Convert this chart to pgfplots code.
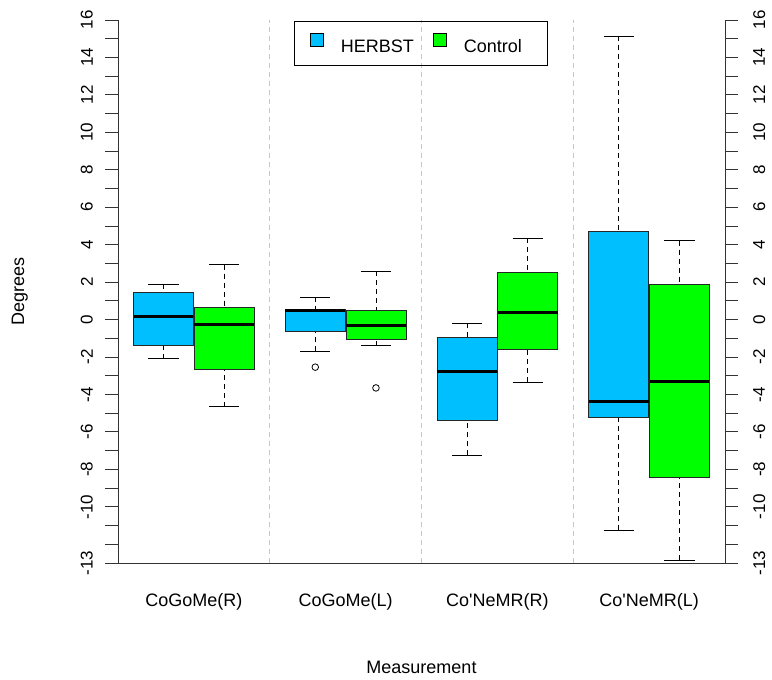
\documentclass[border=0pt]{standalone}
\usepackage{pgfplots}
\pgfplotsset{compat=1.18}
\usepgfplotslibrary{statistics}
\usepackage{fontspec}
\setmainfont{Liberation Sans}
\definecolor{herbst}{HTML}{00BFFF}
\definecolor{ctrl}{HTML}{00FF00}
\definecolor{axc}{HTML}{333333}
\definecolor{sepc}{HTML}{C8C8C8}

\pgfplotsset{
  boxplot/draw/lower whisker/.code={%
    \draw[black, line width=0.8pt, dash pattern=on 5pt off 4pt]
      (boxplot box cs:\pgfplotsboxplotvalue{lower whisker},0.5) --
      (boxplot box cs:\pgfplotsboxplotvalue{lower quartile},0.5);
    \draw[black, line width=0.8pt]
      (boxplot whisker cs:\pgfplotsboxplotvalue{lower whisker},0) --
      (boxplot whisker cs:\pgfplotsboxplotvalue{lower whisker},1);
  },
  boxplot/draw/upper whisker/.code={%
    \draw[black, line width=0.8pt, dash pattern=on 5pt off 4pt]
      (boxplot box cs:\pgfplotsboxplotvalue{upper whisker},0.5) --
      (boxplot box cs:\pgfplotsboxplotvalue{upper quartile},0.5);
    \draw[black, line width=0.8pt]
      (boxplot whisker cs:\pgfplotsboxplotvalue{upper whisker},0) --
      (boxplot whisker cs:\pgfplotsboxplotvalue{upper whisker},1);
  },
  hbox/.style={forget plot, mark=o, mark size=3.3pt, mark options={black, solid, line width=0.8pt},
    boxplot/every box/.style={fill=herbst, draw=black!85, line width=0.8pt},
    boxplot/every median/.style={black, line width=3pt}},
  cbox/.style={forget plot, mark=o, mark size=3.3pt, mark options={black, solid, line width=0.8pt},
    boxplot/every box/.style={fill=ctrl, draw=black!85, line width=0.8pt},
    boxplot/every median/.style={black, line width=3pt}},
}

\begin{document}
\begin{tikzpicture}
\begin{axis}[
  name=main,
  boxplot/draw direction=y,
  scale only axis, width=607pt, height=543pt,
  xmin=0.5, xmax=4.5, ymin=-13, ymax=16,
  clip=false,
  axis x line*=bottom, axis y line*=left,
  axis line style={-, draw=axc, line width=0.9pt},
  tick align=outside, major tick length=13pt,
  tick style={draw=axc, line width=0.9pt},
  xtick={1,2,3,4},
  xticklabels={CoGoMe(R), CoGoMe(L), Co\textquotesingle NeMR(R), Co\textquotesingle NeMR(L)},
  xtick style={draw=none},
  xticklabel style={font=\fontsize{18}{21}\selectfont, anchor=north, inner sep=0pt},
  xticklabel shift=17pt,
  ytick={-13,-12,...,16},
  yticklabels={-13,,,-10,,-8,,-6,,-4,,-2,,0,,2,,4,,6,,8,,10,,12,,14,,16},
  yticklabel style={font=\fontsize{17}{20}\selectfont, rotate=90, anchor=south, inner sep=0pt},
  yticklabel shift=12pt,
  xlabel={Measurement},
  ylabel={Degrees},
  xlabel style={font=\fontsize{18}{21}\selectfont, at={(axis description cs:0.5,-0.1805)}, anchor=north, inner sep=0pt},
  ylabel style={font=\fontsize{18}{21}\selectfont, at={(axis description cs:-0.1483,0.5)}, anchor=south, inner sep=0pt},
  legend style={at={(0.5,1)}, anchor=north, xshift=-0.5pt, yshift=-0.7pt, draw=black, line width=0.8pt, fill=none,
    inner xsep=16pt, inner ysep=12pt, font=\fontsize{18}{21}\selectfont, nodes={inner sep=0pt},
    /tikz/every odd column/.append style={column sep=17pt},
    /tikz/every even column/.append style={column sep=19pt}},
  legend columns=2,
]
% group separators
\addplot[forget plot, sepc, line width=0.8pt, dash pattern=on 5pt off 4pt] coordinates {(1.5,-13) (1.5,16)};
\addplot[forget plot, sepc, line width=0.8pt, dash pattern=on 5pt off 4pt] coordinates {(2.5,-13) (2.5,16)};
\addplot[forget plot, sepc, line width=0.8pt, dash pattern=on 5pt off 4pt] coordinates {(3.5,-13) (3.5,16)};

% CoGoMe(R)
\addplot[hbox, boxplot prepared={draw position=0.8, lower whisker=-2.09, lower quartile=-1.40, median=0.19, upper quartile=1.44, upper whisker=1.88, box extend=0.395, whisker extend=0.2}] coordinates {};
\addplot[cbox, boxplot prepared={draw position=1.2, lower whisker=-4.65, lower quartile=-2.64, median=-0.25, upper quartile=0.67, upper whisker=2.94, box extend=0.395, whisker extend=0.2}] coordinates {};
% CoGoMe(L)
\addplot[hbox, boxplot prepared={draw position=1.8, lower whisker=-1.70, lower quartile=-0.64, median=0.46, upper quartile=0.55, upper whisker=1.20, box extend=0.395, whisker extend=0.2}] table[row sep=\\, y index=0] {-2.54\\};
\addplot[cbox, boxplot prepared={draw position=2.2, lower whisker=-1.40, lower quartile=-1.06, median=-0.32, upper quartile=0.49, upper whisker=2.59, box extend=0.395, whisker extend=0.2}] table[row sep=\\, y index=0] {-3.65\\};
% Co'NeMR(R)
\addplot[hbox, boxplot prepared={draw position=2.8, lower whisker=-7.25, lower quartile=-5.41, median=-2.77, upper quartile=-0.94, upper whisker=-0.20, box extend=0.395, whisker extend=0.2}] coordinates {};
\addplot[cbox, boxplot prepared={draw position=3.2, lower whisker=-3.34, lower quartile=-1.58, median=0.37, upper quartile=2.53, upper whisker=4.34, box extend=0.395, whisker extend=0.2}] coordinates {};
% Co'NeMR(L)
\addplot[hbox, boxplot prepared={draw position=3.8, lower whisker=-11.24, lower quartile=-5.23, median=-4.35, upper quartile=4.71, upper whisker=15.15, box extend=0.395, whisker extend=0.2}] coordinates {};
\addplot[cbox, boxplot prepared={draw position=4.2, lower whisker=-12.85, lower quartile=-8.44, median=-3.28, upper quartile=1.88, upper whisker=4.22, box extend=0.395, whisker extend=0.2}] coordinates {};

\addlegendimage{legend image code/.code={\draw[fill=herbst, draw=black, line width=0.8pt] (0pt,0pt) rectangle (13pt,13pt);}}
\addlegendentry{HERBST}
\addlegendimage{legend image code/.code={\draw[fill=ctrl, draw=black, line width=0.8pt] (0pt,0pt) rectangle (13pt,13pt);}}
\addlegendentry{Control\rule{10pt}{0pt}}
\end{axis}

\begin{axis}[
  scale only axis, width=607pt, height=543pt,
  xmin=0.5, xmax=4.5, ymin=-13, ymax=16,
  axis x line=none, axis y line*=right,
  axis line style={-, draw=axc, line width=0.9pt},
  tick align=outside, major tick length=13pt,
  tick style={draw=axc, line width=0.9pt},
  ytick={-13,-12,...,16},
  yticklabels={-13,,,-10,,-8,,-6,,-4,,-2,,0,,2,,4,,6,,8,,10,,12,,14,,16},
  yticklabel style={font=\fontsize{17}{20}\selectfont, rotate=90, anchor=north, inner sep=0pt},
  yticklabel shift=15pt,
]
\end{axis}
\path ([xshift=-118pt,yshift=-116pt]main.south west) rectangle ([xshift=47pt,yshift=20pt]main.north east);
\end{tikzpicture}
\end{document}
